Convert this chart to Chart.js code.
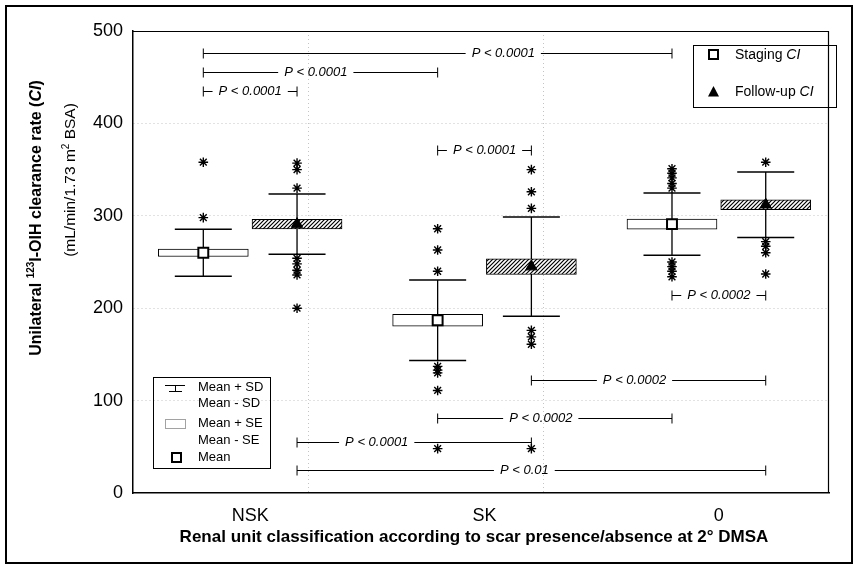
<!DOCTYPE html>
<html>
<head>
<meta charset="utf-8">
<script src="https://cdn.jsdelivr.net/npm/chart.js@4.4.1/dist/chart.umd.min.js"></script>
<style>
html,body{margin:0;padding:0;background:#fff;}
#wrap{width:859px;height:569px;position:relative;}
</style>
</head>
<body>
<div id="wrap"><canvas id="c" width="859" height="569"></canvas></div>
<script>
// ---------- DATA ----------
const categories = ['NSK', 'SK', '0'];
const yTicks = [0, 100, 200, 300, 400, 500];

// Staging CI (open boxes)
const stagingMean = [260, 187, 291];
const stagingSD   = [25.5, 43.5, 33.7];
const stagingSE   = [4, 6.5, 5.4];
const stagingOutliers = [
  [358, 298],
  [286, 263, 240, 137, 133, 130, 111, 48],
  [351, 346, 341, 335, 330, 250, 245, 240, 234]
];

// Follow-up CI (hatched boxes)
const followMean = [291, 245, 312];
const followSD   = [32.5, 53.7, 35.4];
const followSE   = [5.2, 8.5, 5.4];
const followOutliers = [
  [357, 350, 330, 254, 248, 241, 236, 200],
  [350, 326, 308, 176, 169, 161, 48],
  [358, 272, 267, 260, 237]
];

// Significance brackets: [category index, series] endpoints
const bracketLeft  = [[0,'S'],[0,'S'],[0,'S'],[1,'S'],[2,'S'],[1,'F'],[1,'S'],[0,'F'],[0,'F']];
const bracketRight = [[2,'S'],[1,'S'],[0,'F'],[1,'F'],[2,'F'],[2,'F'],[2,'S'],[1,'F'],[2,'F']];
const bracketLevel = [476, 456, 435, 371, 214, 122, 81, 55.5, 25];
const bracketText  = ['P < 0.0001','P < 0.0001','P < 0.0001','P < 0.0001','P < 0.0002',
                      'P < 0.0002','P < 0.0002','P < 0.0001','P < 0.01'];
const bracketLabelFrac = [0.64, 0.48, 0.5, 0.5, 0.5, 0.44, 0.44, 0.34, 0.485];

// ---------- HELPERS ----------
const FONT = '"Liberation Sans", Arial, Helvetica, sans-serif';
const OFFSET = 0.2;
const gx = (cat, series) => (cat + 1) + (series === 'F' ? OFFSET : -OFFSET);

function makeHatch() {
  const c = document.createElement('canvas');
  c.width = 4; c.height = 4;
  const g = c.getContext('2d');
  g.fillStyle = '#fff'; g.fillRect(0, 0, 4, 4);
  g.strokeStyle = '#000'; g.lineWidth = 1.2;
  g.beginPath();
  g.moveTo(0, 4); g.lineTo(4, 0);
  g.moveTo(-1, 1); g.lineTo(1, -1);
  g.moveTo(3, 5); g.lineTo(5, 3);
  g.stroke();
  return g.createPattern(c, 'repeat');
}

function whiskerData() {
  const d = [];
  [[stagingMean, stagingSD, 'S'], [followMean, followSD, 'F']].forEach(([m, sd, s]) => {
    m.forEach((v, i) => {
      d.push({x: gx(i, s), y: v - sd[i]}, {x: gx(i, s), y: v + sd[i]}, {x: gx(i, s), y: null});
    });
  });
  return d;
}
function capData() {
  const d = [];
  [[stagingMean, stagingSD, 'S'], [followMean, followSD, 'F']].forEach(([m, sd, s]) => {
    m.forEach((v, i) => { d.push({x: gx(i, s), y: v - sd[i]}, {x: gx(i, s), y: v + sd[i]}); });
  });
  return d;
}
const seData = (m, se, s) => m.map((v, i) => ({x: gx(i, s), y: [v - se[i], v + se[i]]}));
const meanData = (m, s) => m.map((v, i) => ({x: gx(i, s), y: v}));
function outlierData() {
  const d = [];
  stagingOutliers.forEach((arr, i) => arr.forEach(v => d.push({x: gx(i, 'S'), y: v})));
  followOutliers.forEach((arr, i) => arr.forEach(v => d.push({x: gx(i, 'F'), y: v})));
  return d;
}

function drawRuns(ctx, runs, cx, cy, rotate) {
  ctx.save();
  ctx.translate(cx, cy);
  if (rotate) ctx.rotate(-Math.PI / 2);
  let total = 0;
  runs.forEach(r => { ctx.font = r.font; r.w = ctx.measureText(r.text).width; total += r.w; });
  let x = -total / 2;
  ctx.textBaseline = 'middle'; ctx.textAlign = 'left'; ctx.fillStyle = '#000';
  runs.forEach(r => { ctx.font = r.font; ctx.fillText(r.text, x, r.dy || 0); x += r.w; });
  ctx.restore();
}
function drawRunsLeft(ctx, runs, x, y) {
  ctx.save(); ctx.textBaseline = 'middle'; ctx.textAlign = 'left'; ctx.fillStyle = '#000';
  runs.forEach(r => { ctx.font = r.font; ctx.fillText(r.text, x, y); x += ctx.measureText(r.text).width; });
  ctx.restore();
}

const hatch = makeHatch();

const decorPlugin = {
  id: 'decor',
  beforeDraw(chart) {
    const ctx = chart.ctx;
    ctx.save(); ctx.fillStyle = '#fff'; ctx.fillRect(0, 0, chart.width, chart.height); ctx.restore();
  },
  afterDraw(chart) {
    const ctx = chart.ctx;
    const xs = chart.scales.x, ys = chart.scales.y;
    const a = chart.chartArea;
    ctx.save();
    // plot box top/right
    ctx.strokeStyle = '#000'; ctx.lineWidth = 1.2;
    ctx.beginPath();
    ctx.moveTo(a.left, a.top + 0.5); ctx.lineTo(a.right, a.top + 0.5);
    ctx.moveTo(a.right - 0.5, a.top); ctx.lineTo(a.right - 0.5, a.bottom);
    ctx.stroke();

    // brackets
    ctx.lineWidth = 1;
    ctx.font = 'italic 13px ' + FONT;
    ctx.textAlign = 'center'; ctx.textBaseline = 'middle';
    bracketLevel.forEach((lv, i) => {
      const x1 = xs.getPixelForValue(gx(bracketLeft[i][0], bracketLeft[i][1]));
      const x2 = xs.getPixelForValue(gx(bracketRight[i][0], bracketRight[i][1]));
      const y = Math.round(ys.getPixelForValue(lv)) + 0.5;
      const w = ctx.measureText(bracketText[i]).width;
      const lx = x1 + bracketLabelFrac[i] * (x2 - x1);
      const gap = 6;
      ctx.beginPath();
      ctx.moveTo(x1, y); ctx.lineTo(lx - w / 2 - gap, y);
      ctx.moveTo(lx + w / 2 + gap, y); ctx.lineTo(x2, y);
      ctx.moveTo(x1, y - 5); ctx.lineTo(x1, y + 5);
      ctx.moveTo(x2, y - 5); ctx.lineTo(x2, y + 5);
      ctx.stroke();
      ctx.fillStyle = '#000';
      ctx.fillText(bracketText[i], lx, y);
    });

    // top-right legend
    ctx.lineWidth = 1; ctx.strokeStyle = '#000';
    ctx.strokeRect(693.5, 45.5, 143, 62);
    ctx.fillStyle = '#fff'; ctx.lineWidth = 2;
    ctx.fillRect(709, 50, 9, 9); ctx.strokeRect(709, 50, 9, 9);
    ctx.fillStyle = '#000';
    ctx.beginPath(); ctx.moveTo(713.5, 86); ctx.lineTo(719, 96.5); ctx.lineTo(708, 96.5); ctx.closePath(); ctx.fill();
    drawRunsLeft(ctx, [{text: 'Staging ', font: '14px ' + FONT}, {text: 'CI', font: 'italic 14px ' + FONT}], 735, 55);
    drawRunsLeft(ctx, [{text: 'Follow-up ', font: '14px ' + FONT}, {text: 'CI', font: 'italic 14px ' + FONT}], 735, 92);

    // bottom-left legend
    ctx.lineWidth = 1; ctx.strokeStyle = '#000';
    ctx.strokeRect(153.5, 377.5, 117, 91);
    ctx.beginPath();
    ctx.moveTo(165, 385.5); ctx.lineTo(185, 385.5);
    ctx.moveTo(175.5, 385.5); ctx.lineTo(175.5, 391.5);
    ctx.moveTo(169, 391.5); ctx.lineTo(182, 391.5);
    ctx.stroke();
    ctx.setLineDash([1, 1]); ctx.strokeStyle = '#444';
    ctx.strokeRect(165.5, 419.5, 20, 9);
    ctx.setLineDash([]); ctx.strokeStyle = '#000'; ctx.lineWidth = 2;
    ctx.fillStyle = '#fff'; ctx.fillRect(172, 453, 9, 9); ctx.strokeRect(172, 453, 9, 9);
    ctx.fillStyle = '#000'; ctx.font = '13px ' + FONT; ctx.textAlign = 'left'; ctx.textBaseline = 'middle';
    ctx.fillText('Mean + SD', 198, 387);
    ctx.fillText('Mean - SD', 198, 403);
    ctx.fillText('Mean + SE', 198, 423);
    ctx.fillText('Mean - SE', 198, 440);
    ctx.fillText('Mean', 198, 457);

    // axis titles
    drawRuns(ctx, [
      {text: 'Unilateral ', font: 'bold 16px ' + FONT},
      {text: '123', font: 'bold 10px ' + FONT, dy: -6},
      {text: 'I-OIH clearance rate (', font: 'bold 16px ' + FONT},
      {text: 'CI', font: 'italic bold 16px ' + FONT},
      {text: ')', font: 'bold 16px ' + FONT}
    ], 37, 218, true);
    drawRuns(ctx, [
      {text: '(mL/min/1.73 m', font: '15.5px ' + FONT},
      {text: '2', font: '10px ' + FONT, dy: -5},
      {text: ' BSA)', font: '15.5px ' + FONT}
    ], 71, 180, true);
    drawRuns(ctx, [
      {text: 'Renal unit classification according to scar presence/absence at 2\u00B0 DMSA', font: 'bold 17px ' + FONT}
    ], 474, 537, false);

    // outer frame
    ctx.lineWidth = 2; ctx.strokeStyle = '#000';
    ctx.strokeRect(6, 6, 846, 557);
    ctx.restore();
  }
};

Chart.defaults.font.family = FONT;
Chart.defaults.color = '#000';

new Chart(document.getElementById('c'), {
  type: 'scatter',
  data: {
    datasets: [
      { type: 'line', label: 'SD whisker', data: whiskerData(), borderColor: '#000', borderWidth: 1.3,
        pointRadius: 0, spanGaps: false, fill: false, order: 6 },
      { type: 'scatter', label: 'SD caps', data: capData(), pointStyle: 'line', pointRadius: 28.5,
        borderColor: '#000', pointBorderWidth: 1.5, order: 5 },
      { type: 'bar', label: 'Staging SE', data: seData(stagingMean, stagingSE, 'S'), barThickness: 90,
        grouped: false, backgroundColor: '#fff', borderColor: '#000', borderWidth: 1, borderSkipped: false, order: 4 },
      { type: 'bar', label: 'Follow-up SE', data: seData(followMean, followSE, 'F'), barThickness: 90,
        grouped: false, backgroundColor: hatch, borderColor: '#000', borderWidth: 1, borderSkipped: false, order: 4 },
      { type: 'scatter', label: 'Outliers', data: outlierData(), pointStyle: 'star', pointRadius: 4.8,
        borderColor: '#000', pointBorderWidth: 1.4, order: 2 },
      { type: 'scatter', label: 'Staging CI', data: meanData(stagingMean, 'S'), pointStyle: 'rect', pointRadius: 7,
        backgroundColor: '#fff', borderColor: '#000', pointBorderWidth: 2, order: 1 },
      { type: 'scatter', label: 'Follow-up CI', data: meanData(followMean, 'F'), pointStyle: 'triangle', pointRadius: 6.5,
        backgroundColor: '#000', borderColor: '#000', pointBorderWidth: 1, order: 1 }
    ]
  },
  options: {
    responsive: false,
    animation: false,
    devicePixelRatio: 1,
    layout: { padding: { left: 0, right: 18, top: 31, bottom: 0 } },
    plugins: { legend: { display: false }, tooltip: { enabled: false } },
    scales: {
      x: {
        type: 'linear', min: 0.5, max: 3.47, offset: false,
        afterBuildTicks: s => { s.ticks = [1, 1.5, 2, 2.5, 3].map(v => ({value: v})); },
        afterFit: s => { s.height = 76; },
        ticks: { autoSkip: false, maxRotation: 0, padding: 12, font: { size: 18 }, color: '#000',
          callback: v => Number.isInteger(v) ? categories[v - 1] : '' },
        grid: { drawTicks: false, lineWidth: 1,
          color: c => (c.tick && !Number.isInteger(c.tick.value)) ? '#c4c4c4' : 'rgba(0,0,0,0)' },
        border: { display: true, color: '#000', width: 1.5, dash: [1, 3] }
      },
      y: {
        type: 'linear', min: 0, max: 500,
        afterBuildTicks: s => { s.ticks = yTicks.map(v => ({value: v})); },
        afterFit: s => { s.width = 133; },
        ticks: { padding: 10, font: { size: 18 }, color: '#000' },
        grid: { drawTicks: false, lineWidth: 1,
          color: c => (c.tick && c.tick.value > 0 && c.tick.value < 500) ? '#c4c4c4' : 'rgba(0,0,0,0)' },
        border: { display: true, color: '#000', width: 1.5, dash: [1, 3] }
      }
    }
  },
  plugins: [decorPlugin]
});
</script>
</body>
</html>
